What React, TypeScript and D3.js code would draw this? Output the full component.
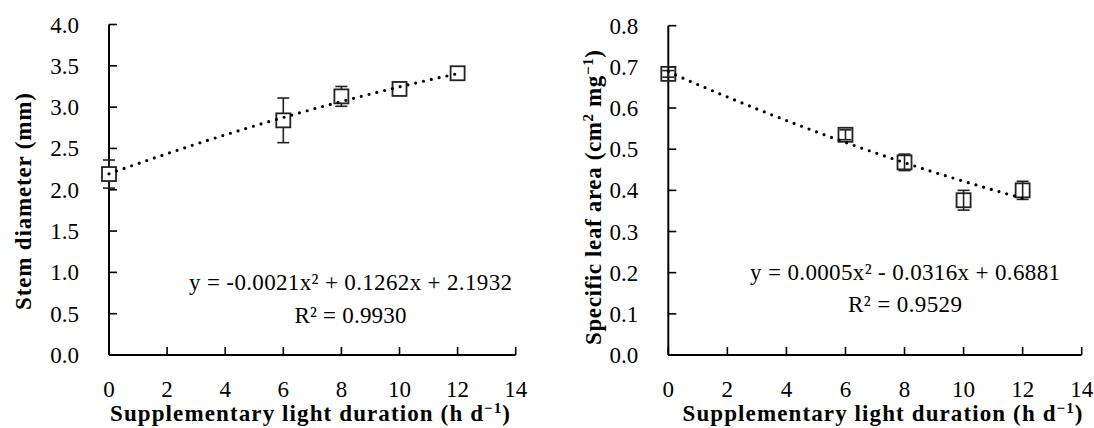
import React from "react";
import * as d3 from "d3";

const hours = [0, 6, 8, 10, 12];
const stemDiameter = [2.19, 2.84, 3.13, 3.22, 3.41];
const stemErr = [0.17, 0.27, 0.12, 0.05, 0.03];
const sla = [0.683, 0.535, 0.468, 0.376, 0.4];
const slaErr = [0.008, 0.012, 0.02, 0.024, 0.022];
const stemFit = [-0.0021, 0.1262, 2.1932];
const slaFit = [0.0005, -0.0316, 0.6881];
const xTicks = [0, 2, 4, 6, 8, 10, 12, 14];
const stemTicks = [0, 0.5, 1, 1.5, 2, 2.5, 3, 3.5, 4];
const slaTicks = [0, 0.1, 0.2, 0.3, 0.4, 0.5, 0.6, 0.7, 0.8];

const FONT = "'Liberation Serif', 'DejaVu Serif', serif";

type PanelProps = {
  x0: number; x1: number; yTop: number; yBot: number; yMax: number;
  yTicks: number[]; values: number[]; errs: number[]; fit: number[];
  eq: string; r2: string; eqX: number; eqY: number; r2Y: number; eqLen: number; r2Len: number;
  yTitle: React.ReactNode; yTitleX: number; yTitleY: number; yTitleLen: number;
  xTitleX: number; errOnTop: boolean;
};

function Panel(p: PanelProps) {
  const x = d3.scaleLinear().domain([0, 14]).range([p.x0, p.x1]);
  const y = d3.scaleLinear().domain([0, p.yMax]).range([p.yBot, p.yTop]);
  const fitPts = d3.range(0, 12.001, 0.1).map((t) => [t, p.fit[0] * t * t + p.fit[1] * t + p.fit[2]] as [number, number]);
  const line = d3.line<[number, number]>().x((d) => x(d[0])).y((d) => y(d[1]));
  const sq = 14;
  const errs = hours.map((h, i) => (
    <g key={"e" + i} stroke="#222" strokeWidth={1.6}>
      <line x1={x(h)} x2={x(h)} y1={y(p.values[i] + p.errs[i])} y2={y(p.values[i] - p.errs[i])} />
      <line x1={x(h) - 6} x2={x(h) + 6} y1={y(p.values[i] + p.errs[i])} y2={y(p.values[i] + p.errs[i])} />
      <line x1={x(h) - 6} x2={x(h) + 6} y1={y(p.values[i] - p.errs[i])} y2={y(p.values[i] - p.errs[i])} />
    </g>
  ));
  const marks = hours.map((h, i) => (
    <rect key={"m" + i} x={x(h) - sq / 2} y={y(p.values[i]) - sq / 2} width={sq} height={sq}
      fill={p.errOnTop ? "none" : "white"} stroke="#222" strokeWidth={1.8} />
  ));
  return (
    <g>
      <line x1={p.x0} x2={p.x0} y1={p.yTop} y2={p.yBot} stroke="black" strokeWidth={2} />
      <line x1={p.x0} x2={p.x1} y1={p.yBot} y2={p.yBot} stroke="black" strokeWidth={2} />
      {p.yTicks.map((t) => (
        <g key={"yt" + t}>
          <line x1={p.x0} x2={p.x0 + 8} y1={y(t)} y2={y(t)} stroke="black" strokeWidth={1.6} />
          <text x={p.x0 - 30} y={y(t)} dy="0.35em" textAnchor="end" fontFamily={FONT} fontSize={23}>{t.toFixed(1)}</text>
        </g>
      ))}
      {xTicks.map((t) => (
        <g key={"xt" + t}>
          <line x1={x(t)} x2={x(t)} y1={p.yBot} y2={p.yBot - 8} stroke="black" strokeWidth={1.6} />
          <text x={x(t)} y={397} textAnchor="middle" fontFamily={FONT} fontSize={23}>{t}</text>
        </g>
      ))}
      {p.errOnTop ? null : errs}
      {marks}
      {p.errOnTop ? errs : null}
      <path d={line(fitPts) || ""} fill="none" stroke="black" strokeWidth={3.2} strokeLinecap="round" strokeDasharray="0 8" />
      <text x={p.eqX} y={p.eqY} textAnchor="middle" fontFamily={FONT} fontSize={23}
        textLength={p.eqLen} lengthAdjust="spacing">{p.eq}</text>
      <text x={p.eqX} y={p.r2Y} textAnchor="middle" fontFamily={FONT} fontSize={23}
        textLength={p.r2Len} lengthAdjust="spacing">{p.r2}</text>
      <text transform={`translate(${p.yTitleX},${p.yTitleY}) rotate(-90)`} textAnchor="middle" fontFamily={FONT}
        fontSize={23} fontWeight="bold" textLength={p.yTitleLen} lengthAdjust="spacing">{p.yTitle}</text>
      <text x={p.xTitleX} y={421} textAnchor="middle" fontFamily={FONT} fontSize={23} fontWeight="bold"
        textLength={400} lengthAdjust="spacing">
        Supplementary light duration (h d<tspan baseline-shift="super" fontSize={15}>−1</tspan>)
      </text>
    </g>
  );
}

export default function App() {
  return (
    <div style={{ position: "fixed", left: 0, top: 0 }}>
      <svg width={1094} height={428} style={{ display: "block", background: "white" }}>
        <Panel x0={109} x1={515.7} yTop={24.5} yBot={355} yMax={4} yTicks={stemTicks}
          values={stemDiameter} errs={stemErr} fit={stemFit}
          eq="y = -0.0021x² + 0.1262x + 2.1932" r2="R² = 0.9930" eqX={350.5} eqY={290} r2Y={323}
          eqLen={323} r2Len={112}
          yTitle="Stem diameter (mm)" yTitleX={31} yTitleY={201.5} yTitleLen={217}
          xTitleX={310} errOnTop={false} />
        <Panel x0={668.3} x1={1081.7} yTop={25.7} yBot={355} yMax={0.8} yTicks={slaTicks}
          values={sla} errs={slaErr} fit={slaFit}
          eq="y = 0.0005x² - 0.0316x + 0.6881" r2="R² = 0.9529" eqX={905} eqY={280} r2Y={312}
          eqLen={310} r2Len={114}
          yTitle={<>Specific leaf area (cm<tspan baseline-shift="super" fontSize={15}>2</tspan> mg<tspan baseline-shift="super" fontSize={15}>−1</tspan>)</>}
          yTitleX={601} yTitleY={197.5} yTitleLen={295}
          xTitleX={882.5} errOnTop={true} />
      </svg>
    </div>
  );
}
